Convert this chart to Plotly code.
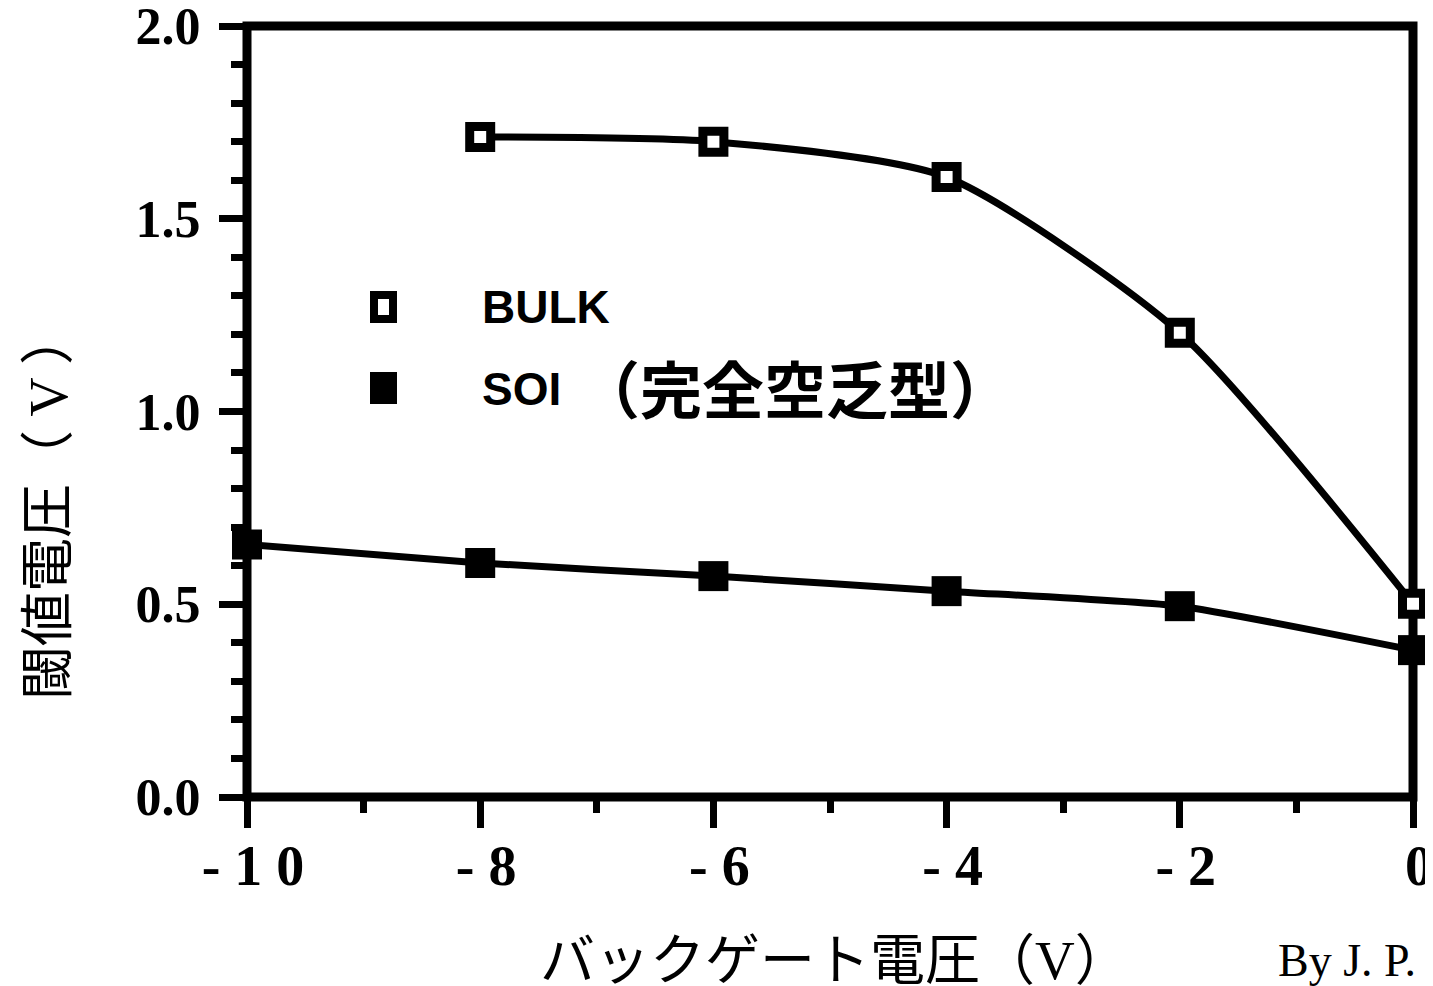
import plotly.graph_objects as go

# ---- data ----
bulk_x = [-8, -6, -4, -2, 0]
bulk_vth = [1.712, 1.700, 1.608, 1.204, 0.501]
soi_x = [-10, -8, -6, -4, -2, 0]
soi_vth = [0.655, 0.607, 0.573, 0.534, 0.495, 0.381]

x_tickvals = [-10, -8, -6, -4, -2, 0]
x_ticktext = ["- 1 0", "- 8", "- 6", "- 4", "- 2", "0"]
y_tickvals = [0.0, 0.5, 1.0, 1.5, 2.0]
y_ticktext = ["0.0", "0.5", "1.0", "1.5", "2.0"]

# page places the figure 8px from the top-left (default body margin)
OFF = 8
W, H = 1433 - OFF, 986 - OFF
# plot area in screen pixels
L, R, T, B = 247, 1413, 26, 797


def px(xp):
    return (xp - L) / (R - L)


def py(yp):
    return (B - yp) / (B - T)


fig = go.Figure()

fig.add_trace(go.Scatter(
    x=soi_x, y=soi_vth, mode="lines+markers", name="SOI",
    line=dict(color="black", width=7, shape="spline", smoothing=0.5),
    marker=dict(symbol="square", size=30, color="black"),
    cliponaxis=False, showlegend=False,
))
fig.add_trace(go.Scatter(
    x=bulk_x, y=bulk_vth, mode="lines+markers", name="BULK",
    line=dict(color="black", width=7, shape="spline", smoothing=0.65),
    marker=dict(symbol="square", size=21, color="white",
                line=dict(color="black", width=9)),
    cliponaxis=False, showlegend=False,
))

fig.update_xaxes(
    range=[-10, 0], showgrid=False, zeroline=False, showline=False,
    automargin=False, ticklabeloverflow="allow",
    tickmode="array", tickvals=x_tickvals, ticktext=x_ticktext,
    ticks="outside", ticklen=30, tickwidth=7, tickcolor="black",
    minor=dict(dtick=1, tick0=0, ticks="outside", ticklen=15, tickwidth=7,
               tickcolor="black", showgrid=False),
    tickfont=dict(family="Liberation Serif", size=56, color="black", weight="bold"),
    ticklabelstandoff=-10, ticklabelshift=6,
)
fig.update_yaxes(
    range=[0, 2], showgrid=False, zeroline=False, showline=False,
    automargin=False, ticklabeloverflow="allow",
    tickmode="array", tickvals=y_tickvals, ticktext=y_ticktext,
    ticks="outside", ticklen=27, tickwidth=7, tickcolor="black",
    minor=dict(dtick=0.1, tick0=0, ticks="outside", ticklen=15, tickwidth=7,
               tickcolor="black", showgrid=False),
    tickfont=dict(family="Liberation Serif", size=52, color="black", weight="bold"),
    ticklabelstandoff=8,
)

shapes = [
    # frame
    dict(type="rect", xref="paper", yref="paper", x0=0, x1=1, y0=0, y1=1,
         line=dict(color="black", width=9), layer="below"),
    # legend symbols
    dict(type="rect", xref="paper", yref="paper",
         x0=px(374), x1=px(393), y0=py(319), y1=py(295),
         line=dict(color="black", width=8), fillcolor="white"),
    dict(type="rect", xref="paper", yref="paper",
         x0=px(370), x1=px(397), y0=py(404), y1=py(372),
         line=dict(width=0), fillcolor="black"),
]

serif_v = "<span style='font-family:Liberation Serif'>V</span>"
serif_v_sp = "<span style='font-family:Liberation Serif'> V </span>"

annotations = [
    dict(text="BULK", xref="paper", yref="paper", x=px(480), y=py(307),
         xanchor="left", yanchor="middle", showarrow=False,
         font=dict(family="Liberation Sans", size=46, color="black", weight="bold")),
    dict(text="SOI", xref="paper", yref="paper", x=px(480), y=py(389),
         xanchor="left", yanchor="middle", showarrow=False,
         font=dict(family="Liberation Sans", size=46, color="black", weight="bold")),
    dict(text="（完全空乏型）", xref="paper", yref="paper", x=px(576), y=py(387),
         xanchor="left", yanchor="middle", showarrow=False,
         font=dict(family="Noto Sans CJK JP", size=62, color="black", weight="bold")),
    dict(text="閾値電圧（" + serif_v_sp + "）", xref="paper", yref="paper",
         x=px(43), y=py(506),
         xanchor="center", yanchor="middle", showarrow=False, textangle=-90,
         font=dict(family="Noto Sans CJK JP", size=54, color="black")),
    dict(text="バックゲート電圧（" + serif_v + "）", xref="paper", yref="paper",
         x=px(835), y=py(955),
         xanchor="center", yanchor="middle", showarrow=False,
         font=dict(family="Noto Sans CJK JP", size=55, color="black")),
    dict(text="By J. P. Colinge", xref="paper", yref="paper", x=px(1276), y=py(961),
         xanchor="left", yanchor="middle", showarrow=False,
         font=dict(family="Liberation Serif", size=46, color="black")),
]

fig.update_layout(
    width=W, height=H,
    margin=dict(l=L - OFF, r=W - (R - OFF), t=T - OFF,
                b=H - (B - OFF), pad=0, autoexpand=False),
    paper_bgcolor="white", plot_bgcolor="white",
    shapes=shapes, annotations=annotations,
    showlegend=False,
)

fig.write_html("out.html")
